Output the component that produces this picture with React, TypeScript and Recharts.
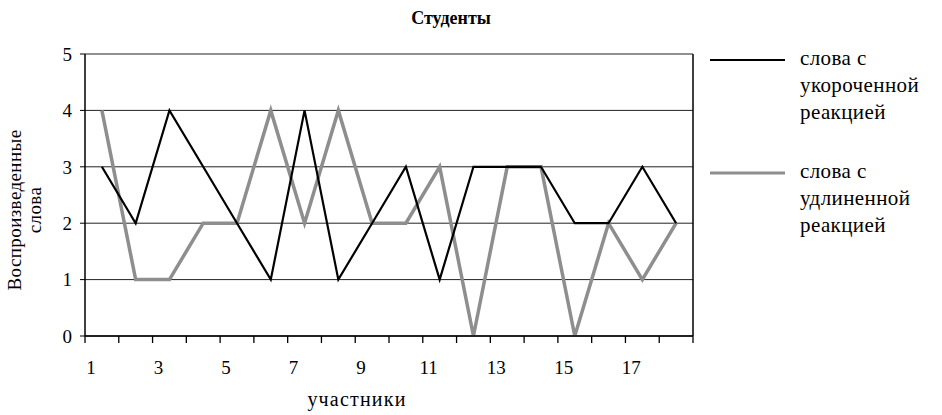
import React from 'react';
import { LineChart, Line, XAxis, YAxis, CartesianGrid, Legend, Label, ReferenceLine } from 'recharts';

const participants = [1, 2, 3, 4, 5, 6, 7, 8, 9, 10, 11, 12, 13, 14, 15, 16, 17, 18];
const shortReaction = [3, 2, 4, 3, 2, 1, 4, 1, 2, 3, 1, 3, 3, 3, 2, 2, 3, 2];
const longReaction = [4, 1, 1, 2, 2, 4, 2, 4, 2, 2, 3, 0, 3, 3, 0, 2, 1, 2];
const xTickLabels = [1, 3, 5, 7, 9, 11, 13, 15, 17];
const yTicks = [0, 1, 2, 3, 4, 5];
const seriesNames = ['слова с укороченной реакцией', 'слова с удлиненной реакцией'];
const legendLines: Record<string, string[]> = {
  'слова с укороченной реакцией': ['слова с', 'укороченной', 'реакцией'],
  'слова с удлиненной реакцией': ['слова с', 'удлиненной', 'реакцией'],
};
const title = 'Студенты';
const xTitle = 'участники';
const yTitleLines = ['Воспроизведенные', 'слова'];

const boundaryTicks = [...participants.map((p) => p - 0.5), participants[participants.length - 1] + 0.5];
const data = participants.map((p, i) => ({ p, short: shortReaction[i], long: longReaction[i] }));

const FONT = '"Liberation Serif", serif';
const NUMFONT = '"Liberation Serif", serif';
const GREY = '#8e8e8e';

const XTick = (props: any) => {
  const { x, y, payload } = props;
  return (
    <text x={x - 11} y={y + 37} textAnchor="middle" fontSize={19} fontFamily={NUMFONT} fill="#000">
      {payload.value}
    </text>
  );
};

const BoundaryTick = (props: any) => {
  const { x, y } = props;
  return <line x1={x} x2={x} y1={y} y2={y + 7} stroke="#000" strokeWidth={1.3} />;
};

const renderLegend = (props: any) => {
  const { payload } = props;
  const ordered = seriesNames.map((n) => payload.find((e: any) => e.value === n)).filter(Boolean);
  return (
    <div style={{ fontFamily: FONT, fontSize: 21, lineHeight: '27px', letterSpacing: 0.4, color: '#000' }}>
      {ordered.map((entry: any, i: number) => (
        <div key={i} style={{ display: 'flex', alignItems: 'flex-start', marginBottom: i === 0 ? 32 : 0 }}>
          <svg width={90} height={27} style={{ flex: 'none' }}>
            <line x1={0} x2={75} y1={15} y2={15} stroke={entry.color} strokeWidth={entry.color === GREY ? 3 : 2.2} />
          </svg>
          <div>
            {legendLines[entry.value].map((t, j) => (
              <div key={j}>{t}</div>
            ))}
          </div>
        </div>
      ))}
    </div>
  );
};

export default function App() {
  return (
    <div style={{ position: 'absolute', left: 0, top: 0, width: 942, height: 415, background: '#fff' }}>
      <div
        style={{
          position: 'absolute',
          left: 351,
          top: 6,
          width: 200,
          textAlign: 'center',
          fontFamily: FONT,
          fontWeight: 'bold',
          fontSize: 18,
          lineHeight: '24px',
          color: '#000',
        }}
      >
        {title}
      </div>
      <LineChart width={942} height={415} data={data} margin={{ top: 54, right: 249, bottom: 38, left: 45 }}>
        <CartesianGrid vertical={false} stroke="#222" strokeWidth={1} />
        <XAxis
          xAxisId="grid"
          type="number"
          dataKey="p"
          domain={[0.5, 18.5]}
          ticks={boundaryTicks}
          tick={<BoundaryTick />}
          tickSize={0}
          tickMargin={0}
          height={1}
          interval={0}
          axisLine={{ stroke: '#000', strokeWidth: 1.5 }}
          tickLine={false}
          allowDataOverflow
        />
        <XAxis
          xAxisId="lbl"
          type="number"
          dataKey="p"
          domain={[0.5, 18.5]}
          ticks={xTickLabels}
          tick={<XTick />}
          tickSize={0}
          tickMargin={0}
          height={40}
          axisLine={false}
          tickLine={false}
          interval={0}
          allowDataOverflow
        >
          <Label
            content={() => (
              <text x={357} y={406} textAnchor="middle" fontSize={20} letterSpacing={1.2} fontFamily={FONT} fill="#000">
                {xTitle}
              </text>
            )}
          />
        </XAxis>
        <YAxis
          type="number"
          domain={[0, 5]}
          ticks={yTicks}
          width={40}
          tickSize={5}
          tickMargin={8}
          interval={0}
          axisLine={{ stroke: '#000', strokeWidth: 1.5 }}
          tickLine={{ stroke: '#000' }}
          tick={{ fontSize: 19, fontFamily: NUMFONT, fill: '#000' }}
        >
          <Label
            content={() => (
              <text transform="rotate(-90)" textAnchor="middle" fontSize={19} letterSpacing={0.4} fontFamily={FONT} fill="#000">
                <tspan x={-210} y={21}>{yTitleLines[0]}</tspan>
                <tspan x={-210} y={41}>{yTitleLines[1]}</tspan>
              </text>
            )}
          />
        </YAxis>
        <ReferenceLine xAxisId="grid" x={18.5} stroke="#000" strokeWidth={1.5} />
        <Line
          xAxisId="grid"
          type="linear"
          dataKey="long"
          name={seriesNames[1]}
          stroke={GREY}
          strokeWidth={3.5}
          dot={false}
          activeDot={false}
          isAnimationActive={false}
        />
        <Line
          xAxisId="grid"
          type="linear"
          dataKey="short"
          name={seriesNames[0]}
          stroke="#000"
          strokeWidth={2.2}
          dot={false}
          activeDot={false}
          isAnimationActive={false}
        />
        <Legend
          layout="vertical"
          align="center"
          verticalAlign="middle"
          content={renderLegend}
          wrapperStyle={{ left: 710, top: 45, width: 232, height: 220 }}
        />
      </LineChart>
    </div>
  );
}
